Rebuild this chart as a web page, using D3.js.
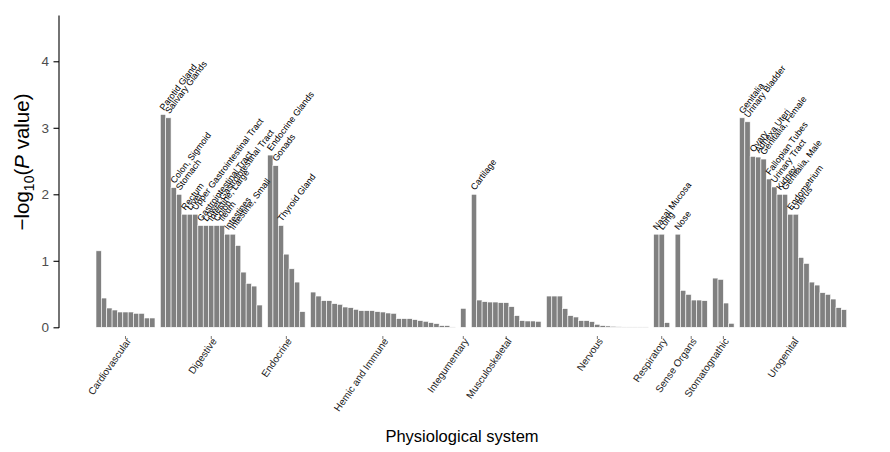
<!DOCTYPE html>
<html>
<head>
<meta charset="utf-8">
<script src="https://cdn.jsdelivr.net/npm/d3@7"></script>
<style>
  body { margin: 0; background: #fff; }
  svg { display: block; font-family: Arial, "Liberation Sans", Helvetica, sans-serif; }
</style>
</head>
<body>
<svg id="chart" width="890" height="452"></svg>
<script>
// ---- data ----
const groups = ["Cardiovascular", "Digestive", "Endocrine", "Hemic and Immune", "Integumentary",
  "Musculoskeletal", "Nervous", "Respiratory", "Sense Organs", "Stomatognathic", "Urogenital"];

const cardiovascular = [1.15, 0.44, 0.29, 0.26, 0.23, 0.23, 0.23, 0.21, 0.21, 0.14, 0.14];
const digestive = [3.20, 3.15, 2.10, 2.00, 1.70, 1.70, 1.70, 1.53, 1.53, 1.53, 1.53, 1.53, 1.40, 1.40, 1.23, 0.83, 0.66, 0.62, 0.335];
const endocrine = [2.59, 2.43, 1.53, 1.10, 0.88, 0.68, 0.235];
const hemic = [0.53, 0.47, 0.40, 0.40, 0.355, 0.345, 0.305, 0.295, 0.27, 0.25, 0.25, 0.25, 0.235, 0.23, 0.215, 0.21, 0.13, 0.13, 0.13, 0.115, 0.10, 0.09, 0.07, 0.055, 0.025, 0.025, 0.005];
const integumentary = [0.285];
const musculoskeletal = [2.00, 0.41, 0.385, 0.38, 0.38, 0.37, 0.37, 0.31, 0.175, 0.10, 0.095, 0.095, 0.09];
const nervous = [0.47, 0.47, 0.47, 0.28, 0.175, 0.155, 0.10, 0.10, 0.085, 0.045, 0.025, 0.02, 0.015, 0.008, 0.005, 0.005, 0.005, 0.005, 0.005];
const respiratory = [1.40, 1.40, 0.07];
const senseOrgans = [1.40, 0.555, 0.495, 0.41, 0.41, 0.40];
const stomatognathic = [0.74, 0.72, 0.365, 0.06];
const urogenital = [3.15, 3.09, 2.57, 2.56, 2.53, 2.23, 2.11, 2.00, 2.00, 1.70, 1.70, 1.05, 0.96, 0.68, 0.635, 0.52, 0.495, 0.425, 0.295, 0.265];

// labels of the significant terms, in bar order within each group
const digestiveLabels = ["Parotid Gland", "Salivary Glands", "Colon, Sigmoid", "Stomach", "Rectum", "Liver",
  "Upper Gastrointestinal Tract", "Gastrointestinal Tract", "Lower Gastrointestinal Tract", "Intestine, Large",
  "Colon", "Ileum", "Intestines", "Intestine, Small"];
const endocrineLabels = ["Endocrine Glands", "Gonads", "Thyroid Gland"];
const musculoskeletalLabels = ["Cartilage"];
const respiratoryLabels = ["Nasal Mucosa", "Lung"];
const senseOrgansLabels = ["Nose"];
const urogenitalLabels = ["Genitalia", "Urinary Bladder", "Ovary", "Adnexa Uteri", "Genitalia, Female",
  "Fallopian Tubes", "Urinary Tract", "Kidney", "Genitalia, Male", "Endometrium", "Uterus"];

const yTicks = [0, 1, 2, 3, 4];

// ---- assemble ----
const groupValues = [cardiovascular, digestive, endocrine, hemic, integumentary, musculoskeletal,
  nervous, respiratory, senseOrgans, stomatognathic, urogenital];
const groupLabels = [[], digestiveLabels, endocrineLabels, [], [], musculoskeletalLabels,
  [], respiratoryLabels, senseOrgansLabels, [], urogenitalLabels];

const bars = [];
const slots = [];
const groupSlots = [];
groups.forEach((g, gi) => {
  if (gi > 0) slots.push("gap" + gi);
  const mine = [];
  groupValues[gi].forEach((v, i) => {
    const key = g + "_" + i;
    slots.push(key);
    mine.push(key);
    bars.push({ key, group: g, value: v, label: groupLabels[gi][i] || "" });
  });
  groupSlots.push({ group: g, first: mine[0], last: mine[mine.length - 1] });
});

// ---- layout ----
const svg = d3.select("#chart");
const x = d3.scaleBand().domain(slots).range([96, 846.7]).padding(0);
const y = d3.scaleLinear().domain([0, 4.69]).range([327.3, 15.4]);
const axisX = 59;

// bars
svg.append("g").selectAll("rect").data(bars).join("rect")
  .attr("x", d => x(d.key))
  .attr("width", x.bandwidth())
  .attr("y", d => y(d.value))
  .attr("height", d => y(0) - y(d.value))
  .attr("fill", "#808080")
  .attr("stroke", "#ffffff")
  .attr("stroke-width", 0.6);

// bar labels
const lblAngle = -53;
svg.append("g").selectAll("text").data(bars.filter(d => d.label)).join("text")
  .attr("transform", d => `translate(${x(d.key) + x.bandwidth() / 2 - 1.5},${y(d.value) - 5.5}) rotate(${lblAngle})`)
  .attr("dy", "0.35em")
  .attr("text-anchor", "start")
  .attr("font-size", 9)
  .attr("fill", "#000")
  .text(d => d.label);

// y axis
const yAxis = d3.axisLeft(y).tickValues(yTicks).tickFormat(d3.format("d")).tickSize(5.5).tickPadding(4.5);
const ga = svg.append("g").attr("transform", `translate(${axisX},0)`).call(yAxis);
ga.select(".domain").attr("stroke", "#000").attr("stroke-width", 1.1).attr("d", `M0,${y(4.69)}V${y(0) + 0.6}`);
ga.selectAll(".tick line").attr("stroke", "#000").attr("stroke-width", 1.1);
ga.selectAll(".tick text").attr("font-size", 13.5).attr("fill", "#4d4d4d").attr("font-family", "Arial, 'Liberation Sans', sans-serif");

// x group ticks + labels
const centers = groupSlots.map(s => ({ group: s.group, cx: (x(s.first) + x(s.last) + x.bandwidth()) / 2 }));
svg.append("g").selectAll("line").data(centers).join("line")
  .attr("x1", d => d.cx).attr("x2", d => d.cx)
  .attr("y1", 336).attr("y2", 339)
  .attr("stroke", "#555").attr("stroke-width", 0.8);
svg.append("g").selectAll("text").data(centers).join("text")
  .attr("transform", d => `translate(${d.cx},${337}) rotate(-55)`)
  .attr("dy", "0.72em")
  .attr("text-anchor", "end")
  .attr("font-size", 10)
  .attr("fill", "#1a1a1a")
  .text(d => d.group);

// axis titles
svg.append("text")
  .attr("x", 462).attr("y", 442)
  .attr("text-anchor", "middle")
  .attr("font-size", 16.5)
  .attr("fill", "#000")
  .text("Physiological system");

const yt = svg.append("text")
  .attr("transform", `translate(29,${162}) rotate(-90)`)
  .attr("text-anchor", "middle")
  .attr("font-size", 20.5)
  .attr("fill", "#000");
yt.append("tspan").text("\u2212log");
yt.append("tspan").attr("font-size", 14).attr("dy", 4.5).text("10");
yt.append("tspan").attr("dy", -4.5).text("(");
yt.append("tspan").attr("font-style", "italic").text("P");
yt.append("tspan").text(" value)");
</script>
</body>
</html>
